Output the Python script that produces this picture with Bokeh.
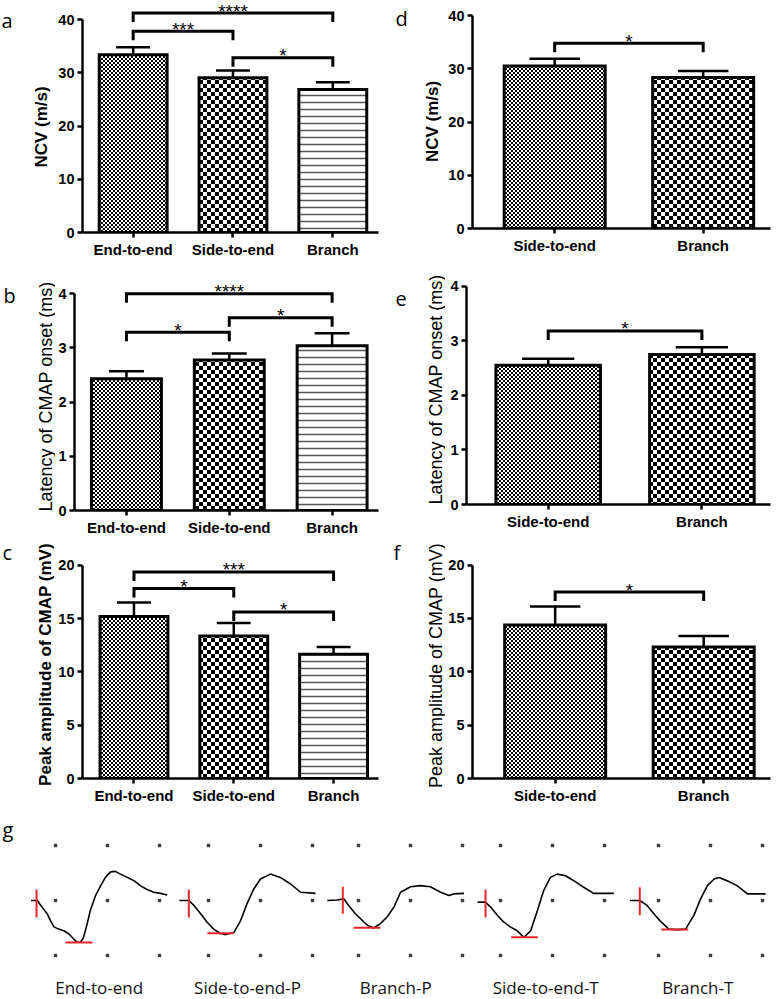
import math
import zlib
import struct
import base64
from bokeh.plotting import figure
from bokeh.layouts import column, row
from bokeh.models import Range1d, FixedTicker, ImageURLTexture
from bokeh.core.properties import value
from bokeh.embed import file_html
from bokeh.resources import INLINE

# ---------------- data ----------------
CATS_3 = ["End-to-end", "Side-to-end", "Branch"]
CATS_2 = ["Side-to-end", "Branch"]

NCV_3_MEAN = [33.4, 29.05, 26.85]
NCV_3_SEM = [1.4, 1.35, 1.35]
LAT_3_MEAN = [2.43, 2.78, 3.04]
LAT_3_SEM = [0.14, 0.12, 0.23]
AMP_3_MEAN = [15.2, 13.37, 11.65]
AMP_3_SEM = [1.3, 1.21, 0.68]

NCV_2_MEAN = [30.5, 28.36]
NCV_2_SEM = [1.37, 1.24]
LAT_2_MEAN = [2.55, 2.75]
LAT_2_SEM = [0.12, 0.13]
AMP_2_MEAN = [14.38, 12.32]
AMP_2_SEM = [1.75, 1.03]

NCV_TICKS = [0, 10, 20, 30, 40]
LAT_TICKS = [0, 1, 2, 3, 4]
AMP_TICKS = [0, 5, 10, 15, 20]

# significance brackets
SIG_A_PAIRS = [(0, 2), (0, 1), (1, 2)]
SIG_A_Y = [41.2, 37.8, 32.8]
SIG_A_LBL = ["****", "***", "*"]
SIG_B_PAIRS = [(0, 2), (1, 2), (0, 1)]
SIG_B_Y = [4.0, 3.56, 3.29]
SIG_B_LBL = ["****", "*", "*"]
SIG_C_PAIRS = [(0, 2), (0, 1), (1, 2)]
SIG_C_Y = [19.37, 17.81, 15.62]
SIG_C_LBL = ["***", "*", "*"]
SIG_D_PAIRS = [(0, 1)]
SIG_D_Y = [34.8]
SIG_D_LBL = ["*"]
SIG_E_PAIRS = [(0, 1)]
SIG_E_Y = [3.18]
SIG_E_LBL = ["*"]
SIG_F_PAIRS = [(0, 1)]
SIG_F_Y = [17.47]
SIG_F_LBL = ["*"]

# CMAP traces (time / amplitude in grid divisions)
TRACE_LABELS = ["End-to-end", "Side-to-end-P", "Branch-P", "Side-to-end-T", "Branch-T"]
T1_T = [-0.47, -0.35, -0.26, -0.16, -0.10, -0.03, 0.06, 0.16, 0.26, 0.35, 0.42, 0.48, 0.54, 0.61,
        0.67, 0.77, 0.87, 0.96, 1.06, 1.15, 1.25, 1.38, 1.51, 1.63, 1.76, 1.89, 2.02, 2.15]
T1_V = [0.0, 0.0, -0.12, -0.24, -0.36, -0.48, -0.52, -0.55, -0.61, -0.70, -0.76, -0.76, -0.67, -0.42,
        -0.18, 0.09, 0.27, 0.42, 0.52, 0.53, 0.48, 0.42, 0.36, 0.27, 0.20, 0.15, 0.13, 0.10]
T2_T = [-0.56, -0.38, -0.28, -0.15, -0.03, 0.10, 0.23, 0.33, 0.49, 0.62, 0.74, 0.87, 1.00, 1.19,
        1.38, 1.58, 1.77, 2.06]
T2_V = [0.0, 0.0, -0.09, -0.24, -0.39, -0.52, -0.60, -0.62, -0.58, -0.36, -0.06, 0.21, 0.39, 0.48,
        0.42, 0.30, 0.15, 0.13]
T3_T = [-0.60, -0.41, -0.28, -0.19, -0.06, 0.07, 0.17, 0.29, 0.42, 0.55, 0.68, 0.81, 1.00, 1.19,
        1.38, 1.58, 1.74, 1.83, 2.03]
T3_V = [0.0, 0.01, 0.03, -0.09, -0.24, -0.36, -0.45, -0.50, -0.42, -0.30, -0.12, 0.15, 0.25, 0.27,
        0.25, 0.15, 0.09, 0.12, 0.13]
T4_T = [-0.44, -0.29, -0.19, -0.06, 0.06, 0.19, 0.32, 0.45, 0.58, 0.71, 0.83, 0.96, 1.09, 1.25,
        1.41, 1.60, 1.79, 2.18]
T4_V = [-0.03, -0.03, -0.12, -0.27, -0.39, -0.48, -0.55, -0.67, -0.55, -0.18, 0.18, 0.42, 0.48, 0.45,
        0.36, 0.24, 0.13, 0.13]
T5_T = [-0.55, -0.36, -0.22, -0.09, 0.04, 0.20, 0.36, 0.52, 0.68, 0.81, 0.94, 1.07, 1.16, 1.32,
        1.51, 1.71, 2.06]
T5_V = [0.0, 0.0, -0.09, -0.24, -0.38, -0.52, -0.53, -0.52, -0.27, 0.03, 0.27, 0.39, 0.42, 0.36,
        0.27, 0.12, 0.12]
ONSET_T = [-0.365, -0.379, -0.302, -0.288, -0.36]
ONSET_TOP = [0.20, 0.20, 0.25, 0.20, 0.24]
ONSET_BOT = [-0.31, -0.31, -0.24, -0.31, -0.27]
TROUGH_V = [-0.764, -0.594, -0.497, -0.667, -0.527]
TROUGH_T0 = [0.19, -0.02, -0.096, 0.206, 0.052]
TROUGH_T1 = [0.71, 0.48, 0.423, 0.718, 0.571]
DOT_T = [0, 1, 2]
DOT_V = [1, 0, -1]

# ---------------- layout (pixel geometry) ----------------
COL_EDGES = [0, 55, 385, 445, 780]
ROW_EDGES = [0, 262, 538, 812, 999]

FONT = "Liberation Sans"
LFONT = "Open Sans"
BAR_W = 0.68
CAP = 0.17
TIP_PX = 9


def checker_png(cell):
    n = 2 * cell
    raw = bytearray()
    for yy in range(n):
        raw.append(0)
        for xx in range(n):
            v = 0 if ((xx // cell) + (yy // cell)) % 2 == 0 else 255
            raw += bytes([v, v, v])

    def chunk(tag, data):
        return (struct.pack(">I", len(data)) + tag + data
                + struct.pack(">I", zlib.crc32(tag + data) & 0xFFFFFFFF))

    png = (b"\x89PNG\r\n\x1a\n" + chunk(b"IHDR", struct.pack(">IIBBBBB", n, n, 8, 2, 0, 0, 0))
           + chunk(b"IDAT", zlib.compress(bytes(raw))) + chunk(b"IEND", b""))
    return "data:image/png;base64," + base64.b64encode(png).decode()


TEXTURES = {
    "fine": ImageURLTexture(url=checker_png(2)),
    "coarse": ImageURLTexture(url=checker_png(4)),
}
FILLS = {
    "fine": dict(hatch_pattern=dict(value="fine"), hatch_scale=4, hatch_extra=TEXTURES, hatch_color="black"),
    "coarse": dict(hatch_pattern=dict(value="coarse"), hatch_scale=8, hatch_extra=TEXTURES, hatch_color="black"),
    "hline": dict(hatch_pattern="horizontal_line", hatch_scale=7, hatch_weight=1.5, hatch_color="#555555"),
}


def label_fig(c, r, letter, letter_pos, ylabel, style, size, ylabel_pos):
    x0, x1 = COL_EDGES[c], COL_EDGES[c + 1]
    y0, y1 = ROW_EDGES[r], ROW_EDGES[r + 1]
    f = figure(width=x1 - x0, height=y1 - y0, x_range=Range1d(x0, x1), y_range=Range1d(y1, y0),
               min_border=0, x_axis_type=None, y_axis_type=None, output_backend="svg",
               toolbar_location=None, frame_align=False)
    f.outline_line_color = None
    f.text(x=[letter_pos[0]], y=[letter_pos[1]], text=[letter], text_align="left",
           text_baseline="alphabetic", text_font=value(LFONT), text_font_size="20px",
           text_color="black")
    f.text(x=[ylabel_pos[0]], y=[ylabel_pos[1]], text=[ylabel], angle=math.pi / 2,
           text_align="center", text_baseline="middle", text_font=value(FONT),
           text_font_style=style, text_font_size=size, text_color="black")
    return f


def bar_panel(geom, cats, means, sems, fills, yticks, pairs, sig_y, sig_lbl):
    c, r = geom["cell"]
    X0, Y0 = COL_EDGES[c], ROW_EDGES[r]
    W = COL_EDGES[c + 1] - X0
    H = ROW_EDGES[r + 1] - Y0
    left = round(geom["axis_x"] - X0)
    right = W - round(geom["axis_r"] - X0)
    bottom = H - round(geom["y0"] - Y0)
    top = max(0, round(geom["top"] - Y0))
    fw = W - left - right
    fh = H - top - bottom
    ppu_y = (geom["y0"] - geom["ytop"]) / yticks[-1]
    ppu_x = geom["step"]
    x_start = (left - (geom["c0"] - X0)) / ppu_x

    p = figure(width=W, height=H, x_range=Range1d(x_start, x_start + fw / ppu_x),
               y_range=Range1d(0, fh / ppu_y), output_backend="svg", toolbar_location=None,
               min_border_left=left, min_border_right=right, min_border_top=top,
               min_border_bottom=bottom, frame_align=False)
    p.xgrid.visible = False
    p.ygrid.visible = False
    p.outline_line_color = None
    xa = p.xaxis[0]
    ya = p.yaxis[0]
    xa.ticker = FixedTicker(ticks=list(range(len(cats))))
    xa.major_label_overrides = {i: cat for i, cat in enumerate(cats)}
    ya.ticker = FixedTicker(ticks=yticks)
    ya.bounds = (0, yticks[-1])
    for ax in (xa, ya):
        ax.axis_line_width = 2.5
        ax.axis_line_color = "black"
        ax.major_tick_line_width = 2.5
        ax.major_tick_line_color = "black"
        ax.major_tick_in = 0
        ax.major_tick_out = 5
        ax.minor_tick_line_color = None
        ax.major_label_text_font = FONT
        ax.major_label_text_font_style = "bold"
        ax.major_label_text_color = "black"
    xa.major_label_text_font_size = "15px"
    ya.major_label_text_font_size = "14.5px"
    xa.major_label_standoff = 3
    ya.major_label_standoff = 3

    for i, (m, s, f) in enumerate(zip(means, sems, fills)):
        p.segment(x0=[i], y0=[m], x1=[i], y1=[m + s], line_width=2.5, line_color="black")
        p.segment(x0=[i - CAP], y0=[m + s], x1=[i + CAP], y1=[m + s], line_width=2.5,
                  line_color="black")
        p.vbar(x=[i], top=[m], bottom=0, width=BAR_W, fill_color="white", line_color="black",
               line_width=3, line_join="miter", **FILLS[f])

    drop = TIP_PX / ppu_y
    for (i, j), h, lab in zip(pairs, sig_y, sig_lbl):
        p.multi_line(xs=[[i, i, j, j]], ys=[[h - drop, h, h, h - drop]], line_width=3,
                     line_color="black", line_join="miter")
        p.text(x=[(i + j) / 2], y=[h], text=[lab], text_align="center",
               text_baseline="alphabetic", text_font=value(FONT), text_font_size="19px",
               text_color="black", y_offset=-2)
    return p


GEOM_A = dict(cell=(1, 0), axis_x=80, axis_r=378, y0=232, ytop=19, top=0, c0=131, step=100.5)
GEOM_D = dict(cell=(3, 0), axis_x=469, axis_r=770, y0=228, ytop=15, top=0, c0=552, step=150)
GEOM_B = dict(cell=(1, 1), axis_x=72, axis_r=378, y0=510, ytop=293.3, top=272, c0=124.3, step=103.5)
GEOM_E = dict(cell=(3, 1), axis_x=466, axis_r=770, y0=504.3, ytop=286, top=280, c0=547.7, step=153.7)
GEOM_C = dict(cell=(1, 2), axis_x=79, axis_r=378, y0=778.3, ytop=565, top=550, c0=131, step=100.8)
GEOM_F = dict(cell=(3, 2), axis_x=469, axis_r=770, y0=777.7, ytop=564.3, top=556, c0=552.5, step=150)

pa = bar_panel(GEOM_A, CATS_3, NCV_3_MEAN, NCV_3_SEM, ["fine", "coarse", "hline"], NCV_TICKS,
               SIG_A_PAIRS, SIG_A_Y, SIG_A_LBL)
pd = bar_panel(GEOM_D, CATS_2, NCV_2_MEAN, NCV_2_SEM, ["fine", "coarse"], NCV_TICKS,
               SIG_D_PAIRS, SIG_D_Y, SIG_D_LBL)
pb = bar_panel(GEOM_B, CATS_3, LAT_3_MEAN, LAT_3_SEM, ["fine", "coarse", "hline"], LAT_TICKS,
               SIG_B_PAIRS, SIG_B_Y, SIG_B_LBL)
pe = bar_panel(GEOM_E, CATS_2, LAT_2_MEAN, LAT_2_SEM, ["fine", "coarse"], LAT_TICKS,
               SIG_E_PAIRS, SIG_E_Y, SIG_E_LBL)
pc = bar_panel(GEOM_C, CATS_3, AMP_3_MEAN, AMP_3_SEM, ["fine", "coarse", "hline"], AMP_TICKS,
               SIG_C_PAIRS, SIG_C_Y, SIG_C_LBL)
pf = bar_panel(GEOM_F, CATS_2, AMP_2_MEAN, AMP_2_SEM, ["fine", "coarse"], AMP_TICKS,
               SIG_F_PAIRS, SIG_F_Y, SIG_F_LBL)

la = label_fig(0, 0, "a", (1, 20), "NCV (m/s)", "bold", "17px", (41, 126.5))
ld = label_fig(2, 0, "d", (395, 18), "NCV (m/s)", "bold", "17px", (432, 121))
lb = label_fig(0, 1, "b", (3, 295), "Latency of CMAP onset (ms)", "normal", "18px", (45, 396))
le = label_fig(2, 1, "e", (395, 298), "Latency of CMAP onset (ms)", "normal", "18px", (435.5, 389))
lc = label_fig(0, 2, "c", (2, 552), "Peak amplitude of CMAP (mV)", "bold", "17px", (45, 664))
lf = label_fig(2, 2, "f", (393, 552), "Peak amplitude of CMAP (mV)", "normal", "18px", (435.5, 665))

# ---------------- panel g: CMAP traces ----------------
DIV_X = 52.0
DIV_Y = 55.0
MID_Y = 900.0
TRACE_X0 = [55, 208, 358, 500, 658]
LABEL_Y = 987
RED = "#e3262b"

gW = COL_EDGES[-1]
gH = ROW_EDGES[4] - ROW_EDGES[3]
g = figure(width=gW, height=gH, x_range=Range1d(0, COL_EDGES[-1] / DIV_X),
           y_range=Range1d((MID_Y - ROW_EDGES[4]) / DIV_Y, (MID_Y - ROW_EDGES[3]) / DIV_Y),
           output_backend="svg", toolbar_location=None, x_axis_type=None, y_axis_type=None,
           min_border=0, frame_align=False)
g.outline_line_color = None

TRACES_T = [T1_T, T2_T, T3_T, T4_T, T5_T]
TRACES_V = [T1_V, T2_V, T3_V, T4_V, T5_V]
for k in range(5):
    ox = TRACE_X0[k] / DIV_X
    g.scatter(x=[ox + t for t in DOT_T for _ in DOT_V], y=[v for _ in DOT_T for v in DOT_V],
              size=2.5, marker="square", color="#333333")
    g.line(x=[ox + t for t in TRACES_T[k]], y=TRACES_V[k], line_color="black", line_width=1.6)
    g.segment(x0=[ox + ONSET_T[k]], y0=[ONSET_TOP[k]], x1=[ox + ONSET_T[k]], y1=[ONSET_BOT[k]],
              line_color=RED, line_width=2)
    g.segment(x0=[ox + TROUGH_T0[k]], y0=[TROUGH_V[k]], x1=[ox + TROUGH_T1[k]], y1=[TROUGH_V[k]],
              line_color=RED, line_width=2)
    mid_t = (min(TRACES_T[k]) + max(TRACES_T[k])) / 2
    g.text(x=[ox + mid_t], y=[(MID_Y - LABEL_Y) / DIV_Y], text=[TRACE_LABELS[k]],
           text_align="center", text_baseline="middle", text_font=value(LFONT),
           text_font_size="17px", text_color="#111111")
g.text(x=[2 / DIV_X], y=[(MID_Y - 829) / DIV_Y], text=["g"], text_align="left",
       text_baseline="alphabetic", text_font=value(LFONT), text_font_size="20px",
       text_color="black")

layout = column(row(la, pa, ld, pd, spacing=0), row(lb, pb, le, pe, spacing=0),
                row(lc, pc, lf, pf, spacing=0), g, spacing=0)
open("out.html", "w").write(file_html(layout, INLINE))
